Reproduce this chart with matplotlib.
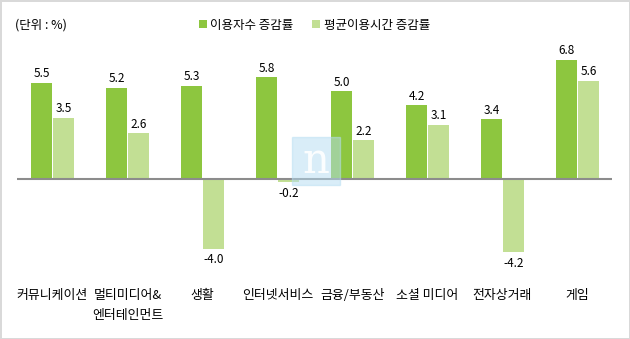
import matplotlib.pyplot as plt
from matplotlib.patches import Rectangle
from matplotlib.transforms import blended_transform_factory
import numpy as np

plt.rcParams['font.family'] = ['Noto Sans CJK KR', 'DejaVu Sans']

categories = ["커뮤니케이션", "멀티미디어&\n엔터테인먼트", "생활", "인터넷서비스",
              "금융/부동산", "소셜 미디어", "전자상거래", "게임"]
users_change = [5.5, 5.2, 5.3, 5.8, 5.0, 4.2, 3.4, 6.8]
time_change = [3.5, 2.6, -4.0, -0.2, 2.2, 3.1, -4.2, 5.6]

dark = "#8DC63F"
light = "#C2DF94"

W, H = 630, 339
fig = plt.figure(figsize=(W / 100, H / 100), dpi=100)
fig.patch.set_edgecolor("#D9D9D9")
fig.patch.set_linewidth(2)

# axes placed in pixel units: zero line at y=179, 17.5 px per unit
ymin, ymax = -5.5, 7.5
ppu = 17.5
top_px = 179 - ymax * ppu
bot_px = 179 - ymin * ppu
ax = fig.add_axes([17 / W, 1 - bot_px / H, 595 / W, (bot_px - top_px) / H])
ax.set_xlim(-0.473, 7.46)
ax.set_ylim(ymin, ymax)

x = np.arange(len(categories))
w = 0.28
b1 = ax.bar(x - w / 2 - 0.005, users_change, w, color=dark, label="이용자수 증감률")
b2 = ax.bar(x + w / 2 + 0.005, time_change, w, color=light, label="평균이용시간 증감률")

for bars, vals in [(b1, users_change), (b2, time_change)]:
    for r, v in zip(bars, vals):
        cx = r.get_x() + r.get_width() / 2
        if v >= 0:
            ax.annotate(f"{v:.1f}", (cx, v), xytext=(0, 2), textcoords="offset points",
                        ha="center", va="bottom", fontsize=8.5)
        else:
            ax.annotate(f"{v:.1f}", (cx, v), xytext=(0, -3), textcoords="offset points",
                        ha="center", va="top", fontsize=8.5)

ax.axhline(0, color="#8C8C8C", linewidth=1.5, zorder=3)
for s in ax.spines.values():
    s.set_visible(False)
ax.set_yticks([])
ax.set_xticks([])

# category labels
trans = blended_transform_factory(ax.transData, fig.transFigure)
for xi, lab in zip(x, categories):
    ax.text(xi, 1 - 289 / H, lab, transform=trans, fontsize=9.3,
            ha="center", va="top", linespacing=1.65)

# watermark
fig.patches.append(Rectangle((292 / W, 1 - 185 / H), 48 / W, 48 / H,
                             transform=fig.transFigure, color="#B5DDF3", alpha=0.5,
                             zorder=5))
fig.text(316 / W, 1 - 161 / H, "n", fontsize=30, family="DejaVu Serif", color="white",
         alpha=0.9, ha="center", va="center", zorder=6)

fig.text(15 / W, 1 - 25 / H, "(단위 : %)", fontsize=9, va="center", ha="left")
fig.legend(handles=[b1, b2], loc="center left", bbox_to_anchor=(199 / W, 1 - 25 / H),
           ncol=2, frameon=False, fontsize=9, handlelength=0.6, handleheight=0.6,
           handletextpad=0.3, columnspacing=1.5, borderaxespad=0, borderpad=0)

fig.savefig("out.png", dpi=100)
